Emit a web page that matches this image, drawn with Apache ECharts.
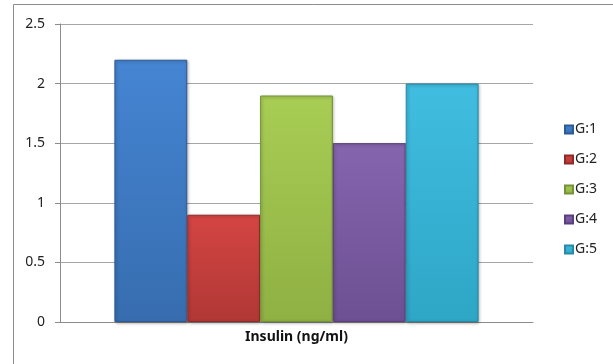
<!DOCTYPE html>
<html>
<head>
<meta charset="utf-8">
<script src="https://cdn.jsdelivr.net/npm/echarts@6/dist/echarts.min.js"></script>
<style>
html,body{margin:0;padding:0;background:#fff;}
#chart{width:613px;height:364px;}
</style>
</head>
<body>
<div id="chart"></div>
<script>
let categories = ['Insulin (ng/ml)'];
let groups = ['G:1','G:2','G:3','G:4','G:5'];
let values = [2.2, 0.9, 1.9, 1.5, 2.0];
let yTicks = [0, 0.5, 1, 1.5, 2, 2.5];
// top / bottom gradient colours for each group
let topCols = ['#4585d3','#d44543','#a8cd54','#8565ae','#40bde0'];
let botCols = ['#376daf','#b03835','#8fb043','#6d4f93','#2ea6c6'];
let edgeCols = ['#2c5a94','#8f2a28','#74923a','#5a3f7c','#2889a6'];

let chart = echarts.init(document.getElementById('chart'));

let series = groups.map((g,i)=>({
  name:g,
  type:'bar',
  data:[values[i]],
  barGap:'0%',
  barCategoryGap:'23%',
  itemStyle:{
    color:new echarts.graphic.LinearGradient(0,0,0,1,[
      {offset:0,color:topCols[i]},
      {offset:1,color:botCols[i]}
    ]),
    borderColor:edgeCols[i],
    borderWidth:1,
    shadowColor:'rgba(0,0,0,0.3)',
    shadowBlur:3,
    shadowOffsetX:1,
    shadowOffsetY:1
  }
}));

chart.setOption({
  animation:false,
  textStyle:{fontFamily:'Noto Sans'},
  graphic:[{
    type:'rect',
    shape:{x:13.5,y:4.5,width:700,height:400},
    style:{fill:'none',stroke:'#8c8c8c',lineWidth:1},
    silent:true
  }],
  legend:{
    data:groups,
    orient:'vertical',
    left:559,
    top:117,
    itemWidth:8,
    itemHeight:8,
    itemGap:15,
    icon:'rect',
    textStyle:{fontSize:14,color:'#222',lineHeight:15,padding:[0,0,0,-3]}
  },
  grid:{left:60,right:80,top:24,bottom:42},
  xAxis:{
    type:'category',
    data:categories,
    axisLine:{lineStyle:{color:'#8c8c8c'}},
    axisTick:{show:false},
    axisLabel:{fontWeight:'bold',fontSize:14,color:'#111',margin:8}
  },
  yAxis:{
    type:'value',
    min:yTicks[0],
    max:yTicks[yTicks.length-1],
    interval:0.5,
    axisLine:{show:true,lineStyle:{color:'#8c8c8c'}},
    axisTick:{show:true,length:5,lineStyle:{color:'#8c8c8c'}},
    axisLabel:{fontSize:14,color:'#222',margin:15},
    splitLine:{lineStyle:{color:'#a6a6a6'}}
  },
  series:series
});
</script>
</body>
</html>
